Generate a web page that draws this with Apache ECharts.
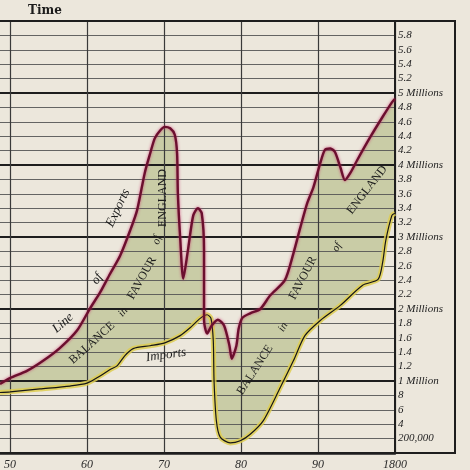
<!DOCTYPE html>
<html><head><meta charset="utf-8">
<script src="https://cdn.jsdelivr.net/npm/echarts@6/dist/echarts.min.js"></script>
<style>html,body{margin:0;padding:0;background:#ece7dc}#c{width:470px;height:470px}</style>
</head><body><div id="c"></div><script>
// ---- data (years, millions of pounds) ----
const exportYears = [1748.7,1750,1752.2,1754.3,1756.5,1758.7,1760.4,1761.7,1763.0,1764.3,1765.6,1766.5,1767.5,1768.2,1768.8,1769.5,1770.1,1770.8,1771.4,1771.7,1771.8,1772.1,1772.5,1773.1,1773.8,1774.4,1774.9,1775.2,1775.2,1775.2,1775.6,1776.2,1777.0,1777.8,1778.5,1778.8,1779.4,1779.7,1780.2,1781.2,1782.5,1783.8,1785.7,1786.8,1787.7,1788.6,1789.4,1790.3,1790.9,1791.6,1792.2,1792.9,1793.5,1794.2,1795.1,1796.8,1798.4,1799.6,1800];
const exportValues = [0.96,1.04,1.14,1.28,1.46,1.70,2.01,2.23,2.49,2.74,3.09,3.37,3.89,4.16,4.37,4.48,4.53,4.51,4.42,4.16,3.61,2.99,2.42,2.81,3.30,3.40,3.33,2.81,2.26,1.84,1.66,1.77,1.85,1.77,1.49,1.31,1.49,1.73,1.88,1.94,2.00,2.19,2.40,2.77,3.13,3.47,3.69,4.03,4.21,4.23,4.18,3.97,3.79,3.89,4.07,4.39,4.67,4.87,4.92];
const importYears = [1748.7,1750,1753.9,1757.8,1760,1761.7,1763.0,1763.9,1764.9,1766.0,1768.2,1770.1,1772.1,1773.4,1774.7,1775.6,1776.1,1776.4,1776.5,1776.8,1777.3,1778.6,1779.9,1781.2,1782.9,1785.1,1786.8,1788.3,1790.3,1792.9,1795.8,1797.8,1798.4,1798.8,1799.6,1800];
const importValues = [0.84,0.85,0.89,0.93,0.97,1.07,1.16,1.21,1.35,1.45,1.49,1.53,1.63,1.74,1.87,1.92,1.87,1.56,1.00,0.45,0.22,0.14,0.17,0.26,0.45,0.91,1.28,1.63,1.84,2.05,2.33,2.41,2.65,2.95,3.30,3.33];
const xTickYears = [1750,1760,1770,1780,1790,1800];
const xTickLabels = ['50','60','70','80','90','1800'];
const yTickLabels = ['','200,000','4','6','8','1 Million','1.2','1.4','1.6','1.8','2 Millions','2.2','2.4','2.6','2.8','3 Millions','3.2','3.4','3.6','3.8','4 Millions','4.2','4.4','4.6','4.8','5 Millions','5.2','5.4','5.6','5.8',''];

const exportData = exportYears.map((y,i)=>[y, exportValues[i]]);
const importData = importYears.map((y,i)=>[y, importValues[i]]);

const chart = echarts.init(document.getElementById('c'), null, {renderer:'canvas'});
const serif = '"Liberation Serif","DejaVu Serif",serif';
const deg = Math.PI/180;
function note(text, x, y, angle, font){
  return {type:'text', x:x, y:y, rotation:angle*deg, z:20,
    style:{text:text, font:font, fill:'#1c1c1c', align:'center', verticalAlign:'middle'}};
}
const capsFont = '12px ' + serif;
const itFont = 'italic 13px ' + serif;
const smallIt = 'italic 11px ' + serif;

chart.setOption({
  backgroundColor:'#ece7dc',
  animation:false,
  grid:{left:-67, right:75, top:21, bottom:17, containLabel:false, outerBoundsMode:'none'},
  xAxis:{type:'value', min:1740, max:1800, interval:10, z:3,
    axisLine:{show:true, lineStyle:{color:'#1e1e1e', width:2.5}},
    axisTick:{show:false},
    axisLabel:{formatter:v=>{const i=xTickYears.indexOf(Math.round(v)); return i<0?'':xTickLabels[i];},
      fontFamily:serif, fontStyle:'italic', fontSize:12, color:'#2a2a2a', margin:6},
    splitLine:{show:true, lineStyle:{color:'#3a3a3a', width:1.2}}},
  yAxis:[
    {type:'value', min:0, max:6, interval:0.2, position:'right', z:3,
      axisLine:{show:true, lineStyle:{color:'#1e1e1e', width:2}},
      axisTick:{show:false},
      axisLabel:{formatter:v=>yTickLabels[Math.round(v*5)]||'', fontFamily:serif, fontStyle:'italic',
        fontSize:11, color:'#222', margin:3, align:'left'},
      splitLine:{show:true, lineStyle:{color:'#555', width:0.9}}},
    {type:'value', min:0, max:6, interval:1, position:'left', z:3,
      axisLine:{show:false}, axisTick:{show:false}, axisLabel:{show:false},
      splitLine:{show:true, lineStyle:{color:'#1e1e1e', width:2}}}
  ],
  series:[
    {type:'custom', coordinateSystem:'cartesian2d', z:1, silent:true, data:[[1770,2]],
      renderItem:(params, api)=>{
        const pts = exportData.map(p=>api.coord(p)).concat(importData.slice().reverse().map(p=>api.coord(p)));
        return {type:'polygon', shape:{points:pts, smooth:0}, style:{fill:'#c9cca6'}};
      }},
    {type:'line', name:'importsGlow', data:importData, z:5, symbol:'none', smooth:0.25, silent:true,
      lineStyle:{color:'rgba(222,205,80,0.85)', width:5}},
    {type:'line', name:'Imports', data:importData, z:6, symbol:'none', smooth:0.25, silent:true,
      lineStyle:{color:'#161616', width:1.2}},
    {type:'line', name:'Exports', data:exportData, z:7, symbol:'none', smooth:0.25, silent:true,
      lineStyle:{color:'#6b0f2e', width:2.4, shadowColor:'rgba(200,50,110,0.8)', shadowBlur:3}}
  ],
  graphic:[
    {type:'rect', z:15, shape:{x:-5, y:21, width:460, height:432}, style:{fill:null, stroke:'#1e1e1e', lineWidth:2}},
    {type:'text', x:45, y:11, z:20, style:{text:'Time', font:'bold 12px "DejaVu Serif",serif', fill:'#1c1c1c', align:'center', verticalAlign:'middle'}},
    note('Line', 63, 323, 41, itFont),
    note('of', 97, 279, 55, itFont),
    note('Exports', 118, 208, 65, itFont),
    note('BALANCE', 92, 343, 42, capsFont),
    note('in', 123, 312, 50, smallIt),
    note('FAVOUR', 142, 278, 60, capsFont),
    note('of', 157, 240, 75, smallIt),
    note('ENGLAND', 163, 198, 90, capsFont),
    note('Imports', 166, 355, 8, itFont),
    note('BALANCE', 255, 370, 57, capsFont),
    note('in', 283, 327, 60, smallIt),
    note('FAVOUR', 303, 278, 62, capsFont),
    note('of', 337, 247, 60, smallIt),
    note('ENGLAND', 367, 190, 52, capsFont)
  ]
});
</script></body></html>
